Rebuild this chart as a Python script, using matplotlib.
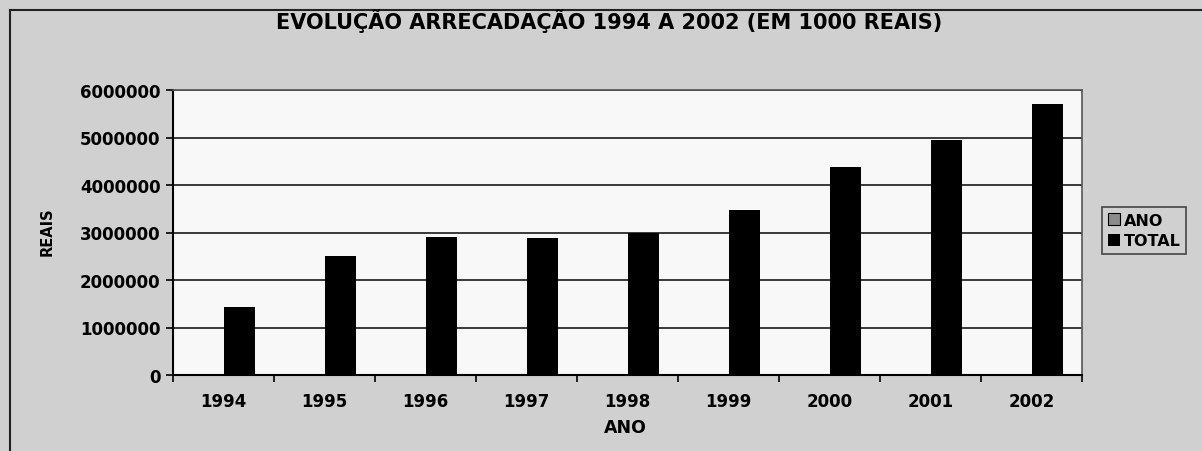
import numpy as np
import matplotlib
matplotlib.use("Agg")
import matplotlib.pyplot as plt
from matplotlib.lines import Line2D

# --- dados --------------------------------------------------------------------
anos = ['1994', '1995', '1996', '1997', '1998', '1999', '2000', '2001', '2002']
serie_ano = [1994, 1995, 1996, 1997, 1998, 1999, 2000, 2001, 2002]
serie_total = [1440000, 2500000, 2905000, 2890000, 2990000, 3480000, 4370000, 4950000, 5710000]
yticks = [0, 1000000, 2000000, 3000000, 4000000, 5000000, 6000000]

plt.rcParams['font.family'] = ['DejaVu Sans']
plt.rcParams['font.weight'] = 'bold'

fig = plt.figure(figsize=(12.02, 4.52), dpi=100, facecolor='#d0d0d0')

# moldura (so topo e esquerda aparecem no recorte)
fig.add_artist(Line2D([10/1202, 10/1202], [0, 1 - 11/452], transform=fig.transFigure, color='#222222', lw=1.5))
fig.add_artist(Line2D([10/1202, 1], [1 - 11/452, 1 - 11/452], transform=fig.transFigure, color='#222222', lw=1.5))

ax = fig.add_axes([173/1202, 1 - 376/452, 909/1202, 285/452])
ax.set_facecolor('#f8f8f8')

x = np.arange(len(anos))
w = 0.31
ax.bar(x - w/2, serie_ano, width=w, color='#8c8c8c', edgecolor='black', linewidth=0.8, label='ANO', zorder=3)
ax.bar(x + w/2, serie_total, width=w, color='black', label='TOTAL', zorder=3)

ax.set_xlim(-0.5, len(anos) - 0.5)
ax.set_ylim(0, 6000000)
ax.set_yticks(yticks)
ax.set_yticklabels([str(v) for v in yticks], fontsize=12)
ax.yaxis.grid(True, color='#2a2a2a', lw=1.3, zorder=0)

ax.set_xticks(x)
ax.set_xticklabels(anos, fontsize=12)
ax.tick_params(axis='x', length=0, pad=12)
ax.set_xticks(np.arange(-0.5, len(anos)), minor=True)
ax.tick_params(axis='x', which='minor', length=5, width=1.2, direction='out', color='black')
ax.tick_params(axis='y', length=5, width=1.2, direction='out', pad=4)

for s in ['left', 'bottom']:
    ax.spines[s].set_color('black')
    ax.spines[s].set_linewidth(1.5)
for s in ['top', 'right']:
    ax.spines[s].set_color('#555555')
    ax.spines[s].set_linewidth(1.2)

fig.text(609/1202, 1 - 21/452, 'EVOLUÇÃO ARRECADAÇÃO 1994 A 2002 (EM 1000 REAIS)',
         ha='center', va='center', fontsize=15, fontweight='bold')
fig.text(47/1202, 1 - 232/452, 'REAIS', rotation=90, ha='center', va='center',
         fontsize=10.5, fontweight='bold')
fig.text(625/1202, 1 - 428/452, 'ANO', ha='center', va='center',
         fontsize=12.5, fontweight='bold')

leg = fig.legend(loc='upper left', bbox_to_anchor=(1102/1202, 1 - 208/452),
                 fontsize=11.5, frameon=True, fancybox=False, handlelength=0.8,
                 handleheight=0.8, handletextpad=0.2, borderpad=0.35,
                 labelspacing=0.35, borderaxespad=0)
leg.get_frame().set_edgecolor('#222222')
leg.get_frame().set_facecolor('none')
leg.get_frame().set_linewidth(1.2)

fig.savefig('out.png', dpi=100, facecolor=fig.get_facecolor())
